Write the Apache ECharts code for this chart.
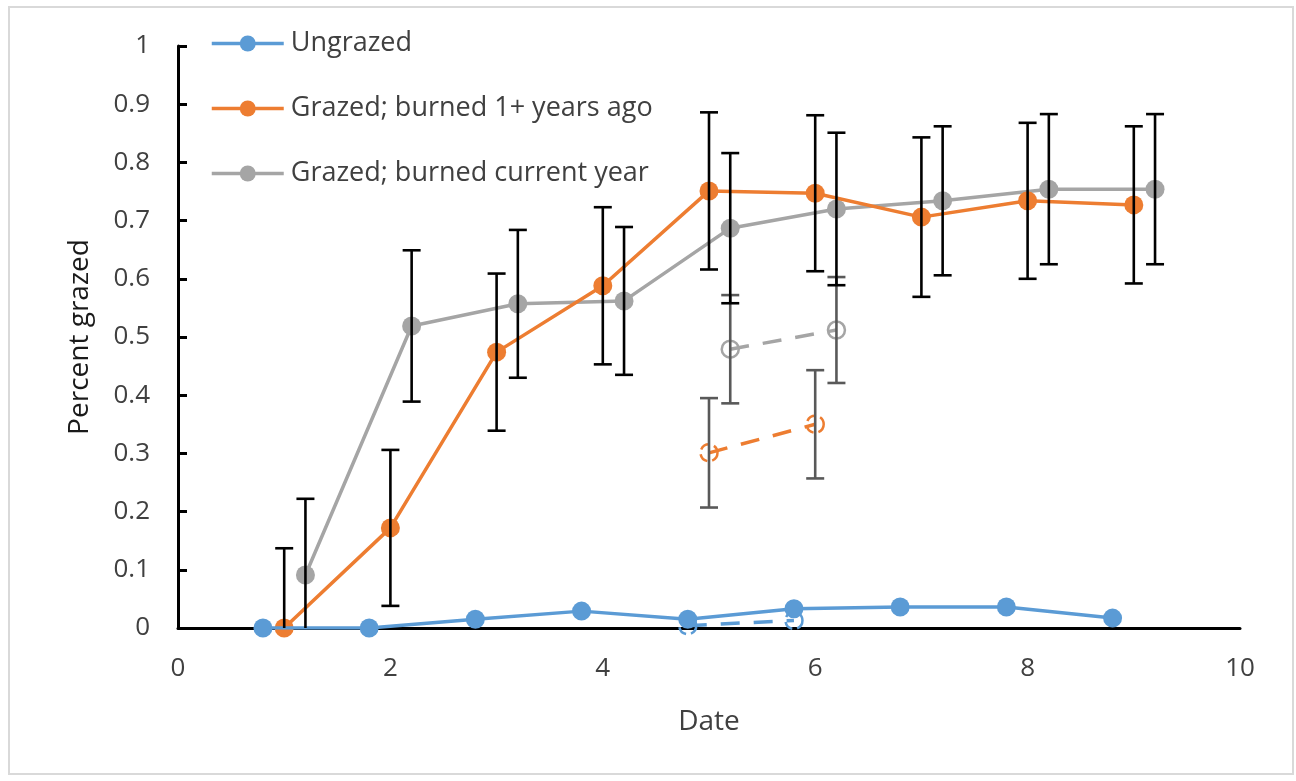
<!DOCTYPE html>
<html><head><meta charset="utf-8">
<script src="https://cdn.jsdelivr.net/npm/echarts@6/dist/echarts.min.js"></script>
<style>html,body{margin:0;padding:0;background:#fff}#c{width:1296px;height:781px}</style>
</head><body><div id="c"></div>
<script>
var xTicks = [0, 2, 4, 6, 8, 10];
var yTicks = [0, 0.1, 0.2, 0.3, 0.4, 0.5, 0.6, 0.7, 0.8, 0.9, 1];
var seriesNames = ['Ungrazed', 'Grazed; burned 1+ years ago', 'Grazed; burned current year'];

var ungrazedX = [0.8, 1.8, 2.8, 3.8, 4.8, 5.8, 6.8, 7.8, 8.8];
var ungrazedY = [0, 0, 0.015, 0.029, 0.015, 0.033, 0.036, 0.036, 0.017];

var burnedOldX = [1, 2, 3, 4, 5, 6, 7, 8, 9];
var burnedOldY = [0, 0.172, 0.474, 0.588, 0.751, 0.747, 0.706, 0.734, 0.727];
var burnedOldErr = [0.137, 0.134, 0.135, 0.135, 0.135, 0.134, 0.137, 0.134, 0.135];

var burnedNowX = [1.2, 2.2, 3.2, 4.2, 5.2, 6.2, 7.2, 8.2, 9.2];
var burnedNowY = [0.091, 0.519, 0.557, 0.562, 0.687, 0.72, 0.734, 0.754, 0.754];
var burnedNowErr = [0.131, 0.13, 0.127, 0.127, 0.129, 0.131, 0.128, 0.129, 0.129];

var ungrazedAltX = [4.8, 5.8];
var ungrazedAltY = [0.004, 0.013];

var burnedOldAltX = [5, 6];
var burnedOldAltY = [0.301, 0.350];
var burnedOldAltErr = [0.094, 0.093];

var burnedNowAltX = [5.2, 6.2];
var burnedNowAltY = [0.479, 0.512];
var burnedNowAltErr = [0.093, 0.091];

var BLUE = '#5b9bd5', ORANGE = '#ed7d31', GRAY = '#a5a5a5';
var FONT = '"Open Sans", "Noto Sans", sans-serif';
var TXT = '#404040';

function pairs(xs, ys) { return xs.map(function (x, i) { return [x, ys[i]]; }); }
function errData(xs, ys, es) { return xs.map(function (x, i) { return [x, ys[i], es[i]]; }); }

function errSeries(data, color, z) {
  return {
    type: 'custom', z: z, silent: true,
    data: data,
    renderItem: function (params, api) {
      var x = api.value(0), y = api.value(1), e = api.value(2);
      var lo = Math.max(0, y - e), hi = Math.min(1, y + e);
      var pHi = api.coord([x, hi]), pLo = api.coord([x, lo]);
      var cw = 9;
      var style = { stroke: color, lineWidth: 2.6 };
      var children = [
        { type: 'line', shape: { x1: pHi[0], y1: pHi[1], x2: pLo[0], y2: pLo[1] }, style: style }
      ];
      if (y + e <= 1) children.push({ type: 'line', shape: { x1: pHi[0] - cw, y1: pHi[1], x2: pHi[0] + cw, y2: pHi[1] }, style: style });
      if (y - e >= 0) children.push({ type: 'line', shape: { x1: pLo[0] - cw, y1: pLo[1], x2: pLo[0] + cw, y2: pLo[1] }, style: style });
      return { type: 'group', children: children };
    }
  };
}

function solidLine(name, xs, ys, color, z) {
  return {
    name: name, type: 'line', z: z, data: pairs(xs, ys),
    symbol: 'circle', symbolSize: 19,
    lineStyle: { color: color, width: 3.5 },
    itemStyle: { color: color, borderWidth: 0 },
    animation: false
  };
}

function dashedLine(xs, ys, color, borderType, z) {
  return {
    type: 'line', z: z, data: pairs(xs, ys),
    symbol: 'circle', symbolSize: 17,
    lineStyle: { color: color, width: 3.5, type: [19, 14] },
    itemStyle: { color: 'rgba(0,0,0,0)', borderColor: color, borderWidth: 2.5, borderType: borderType },
    animation: false
  };
}

var chart = echarts.init(document.getElementById('c'));
chart.setOption({
  backgroundColor: '#fff',
  animation: false,
  textStyle: { fontFamily: FONT },
  graphic: [{
    type: 'rect', shape: { x: 9, y: 7, width: 1284, height: 767 },
    style: { fill: 'none', stroke: '#d9d9d9', lineWidth: 2 }, z: -10
  }],
  grid: { left: 178, right: 56, top: 46, bottom: 153, containLabel: false },
  legend: {
    orient: 'vertical', left: 205, top: 25,
    itemWidth: 72, itemHeight: 20, itemGap: 38,
    data: seriesNames,
    lineStyle: { width: 3.5 },
    textStyle: { fontSize: 27, lineHeight: 27, color: TXT, fontFamily: FONT, padding: [0, 0, 0, 2] }
  },
  xAxis: {
    type: 'value', min: 0, max: 10, interval: 2,
    name: 'Date', nameLocation: 'middle', nameGap: 80,
    nameTextStyle: { fontSize: 28, color: TXT, fontFamily: FONT },
    axisLine: { show: true, onZero: false, lineStyle: { color: '#000', width: 3 } },
    axisTick: { show: false },
    splitLine: { show: false },
    axisLabel: { fontSize: 26, color: TXT, margin: 28, fontFamily: FONT,
      formatter: function (v) { return xTicks.indexOf(v) >= 0 ? String(v) : ''; } }
  },
  yAxis: {
    type: 'value', min: 0, max: 1, interval: 0.1,
    name: 'Percent grazed', nameLocation: 'middle', nameGap: 84,
    nameTextStyle: { fontSize: 28, color: '#1a1a1a', fontFamily: FONT },
    axisLine: { show: true, lineStyle: { color: '#000', width: 3 } },
    axisTick: { show: true, inside: true, length: 9, lineStyle: { color: '#000', width: 3 } },
    splitLine: { show: false },
    axisLabel: { fontSize: 26, color: TXT, margin: 28, fontFamily: FONT,
      formatter: function (v) {
        var r = Math.round(v * 10) / 10;
        return yTicks.indexOf(r) >= 0 ? String(r) : '';
      } }
  },
  series: [
    dashedLine(ungrazedAltX, ungrazedAltY, BLUE, 'dashed', 2),
    dashedLine(burnedOldAltX, burnedOldAltY, ORANGE, 'dashed', 2),
    dashedLine(burnedNowAltX, burnedNowAltY, GRAY, 'solid', 2),
    errSeries(errData(burnedOldAltX, burnedOldAltY, burnedOldAltErr), '#595959', 3),
    errSeries(errData(burnedNowAltX, burnedNowAltY, burnedNowAltErr), '#595959', 3),
    solidLine(seriesNames[2], burnedNowX, burnedNowY, GRAY, 4),
    solidLine(seriesNames[1], burnedOldX, burnedOldY, ORANGE, 5),
    solidLine(seriesNames[0], ungrazedX, ungrazedY, BLUE, 6),
    errSeries(errData(burnedOldX, burnedOldY, burnedOldErr), '#000', 7),
    errSeries(errData(burnedNowX, burnedNowY, burnedNowErr), '#000', 7)
  ]
});
</script></body></html>
